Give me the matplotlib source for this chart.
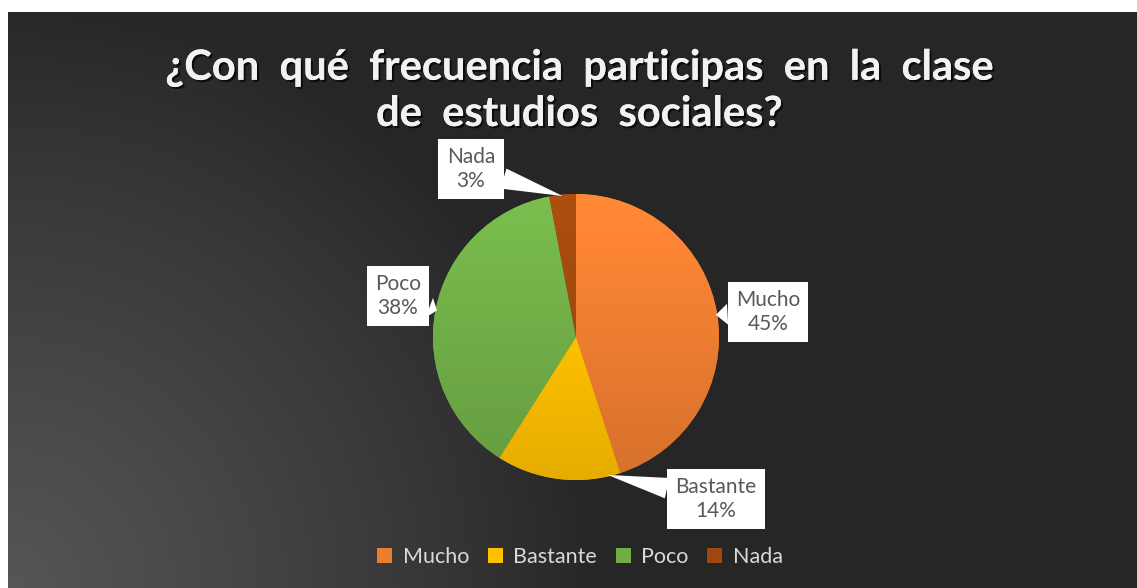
import numpy as np
import matplotlib
matplotlib.use("Agg")
import matplotlib.pyplot as plt
from matplotlib.patches import Patch
import matplotlib.patheffects as pe
from matplotlib.colors import to_rgb

plt.rcParams['font.family'] = ['Lato', 'DejaVu Sans']

# data
categories = ['Mucho', 'Bastante', 'Poco', 'Nada']
values = [45, 14, 38, 3]
colors = ['#ED7D31', '#FFC000', '#70AD47', '#9E480E']
title_lines = ['¿Con qué frecuencia participas en la clase', 'de estudios sociales?']

W, H = 1137, 588
fig = plt.figure(figsize=(W / 100, H / 100), dpi=100)
fig.patch.set_facecolor('white')

# dark background, lighter towards the bottom-left corner
bg = fig.add_axes([8 / W, 0, 1 - 8 / W, (H - 12) / H])
yy, xx = np.mgrid[0:576, 0:1129]
d = np.sqrt((xx / 576.0) ** 2 + ((575 - yy) / 576.0) ** 2)
shade = np.clip(1 - d / 1.02, 0, 1) ** 0.85
lvl = (0x26 + 0x30 * shade) / 255.0
bg.imshow(np.dstack([lvl, lvl, lvl]), aspect='auto', interpolation='bilinear')
bg.axis('off')

# pie
cx, cy, r = 576, H - 337, 143
ax = fig.add_axes([(cx - r) / W, (cy - r) / H, 2 * r / W, 2 * r / H])
wedges, _ = ax.pie(values, colors=colors, startangle=90, counterclock=False,
                   wedgeprops=dict(linewidth=0))
ax.set_xlim(-1, 1)
ax.set_ylim(-1, 1)

# soft top-to-bottom shading on each slice
g = np.linspace(1.1, 0.9, 200)[:, None]
for w, c in zip(wedges, colors):
    rgb = np.array(to_rgb(c))
    img = np.clip(g[..., None] * rgb[None, None, :], 0, 1) * np.ones((200, 2, 3))
    im = ax.imshow(img, extent=[-1, 1, -1, 1], aspect='auto', zorder=2)
    im.set_clip_path(w)

# callout labels
label_pos = [(768, 312), (716, 499), (398, 296), (471, 169)]
tip_frac = [0.5, 0.9, 0.5, 0.5]
for w, cat, v, (lx, ly), f in zip(wedges, categories, values, label_pos, tip_frac):
    ang = np.deg2rad(w.theta1 + (w.theta2 - w.theta1) * f)
    ax.annotate(f'{cat}\n{v}%', xy=(np.cos(ang) * 0.99, np.sin(ang) * 0.99),
                xytext=(lx, H - ly), textcoords='figure pixels',
                ha='center', va='center', fontsize=15, color='#595959',
                linespacing=1.2, zorder=5,
                bbox=dict(boxstyle='square,pad=0.4', fc='white', ec='none'),
                arrowprops=dict(arrowstyle='wedge,tail_width=1.0,shrink_factor=0.5',
                                fc='white', ec='none', shrinkA=0, shrinkB=0),
                annotation_clip=False)

shadow = [pe.withSimplePatchShadow(offset=(1.5, -1.5), alpha=0.7, shadow_rgbFace='black'),
          pe.Normal()]
for line, ty in zip(title_lines, [68, 114]):
    fig.text(579 / W, 1 - ty / H, '  '.join(line.split(' ')), ha='center', va='center',
             fontsize=30, fontweight='bold', color='#f2f2f2', path_effects=shadow)

handles = [Patch(facecolor=c, edgecolor='none') for c in colors]
leg = fig.legend(handles, categories, loc='center', bbox_to_anchor=(580 / W, 1 - 557 / H),
                 ncol=4, frameon=False, fontsize=15.5, labelcolor='#d9d9d9',
                 handlelength=0.7, handleheight=0.7, handletextpad=0.5,
                 columnspacing=0.85)

fig.savefig('out.png', dpi=100, facecolor='white')
